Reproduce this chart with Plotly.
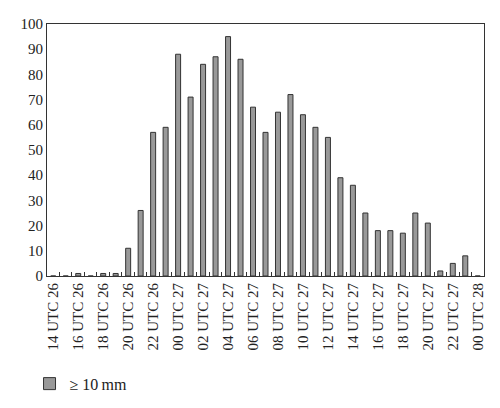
import plotly.graph_objects as go

# hourly counts, 14 UTC 26 .. 00 UTC 28
horas = (
    [f"{h:02d} UTC 26" for h in range(14, 24)]
    + [f"{h:02d} UTC 27" for h in range(0, 24)]
    + ["00 UTC 28"]
)

conteo = [
    0, 0, 1, 0, 1, 1, 11, 26, 57, 59,
    88, 71, 84, 87, 95, 86, 67, 57, 65, 72,
    64, 59, 55, 39, 36, 25, 18, 18, 17, 25,
    21, 2, 5, 8, 0,
]

# only every second hour gets a label
etiquetas = [h if i % 2 == 0 else "" for i, h in enumerate(horas)]

fuente = "Liberation Serif"

fig = go.Figure()

fig.add_trace(go.Bar(
    x=horas,
    y=conteo,
    name="\u2265 10\u2009mm",
    width=0.4,
    marker=dict(color="#999999", line=dict(color="#333333", width=1)),
))

# page body adds 8px offset, margins compensate
fig.update_layout(
    width=500,
    height=408,
    margin=dict(l=39, r=24, t=16, b=140),
    plot_bgcolor="white",
    paper_bgcolor="white",
    font=dict(family=fuente, size=15, color="#222222"),
    showlegend=True,
    legend=dict(
        x=-0.04, y=-0.36, xanchor="left", yanchor="top",
        font=dict(family=fuente, size=16),
        itemwidth=30,
    ),
)

fig.update_xaxes(
    type="category",
    tickmode="array",
    tickvals=horas,
    ticktext=etiquetas,
    tickangle=-90,
    tickson="boundaries",
    ticks="inside",
    ticklen=4,
    tickcolor="#333333",
    showline=True,
    linecolor="#333333",
    linewidth=1,
    mirror=True,
    showgrid=False,
    automargin=False,
    tickfont=dict(family=fuente, size=15),
)

fig.update_yaxes(
    range=[0, 100],
    dtick=10,
    ticks="",
    showline=True,
    linecolor="#333333",
    linewidth=1,
    mirror=True,
    showgrid=False,
    zeroline=False,
    automargin=False,
    tickfont=dict(family=fuente, size=15),
)

fig.write_html("out.html")
